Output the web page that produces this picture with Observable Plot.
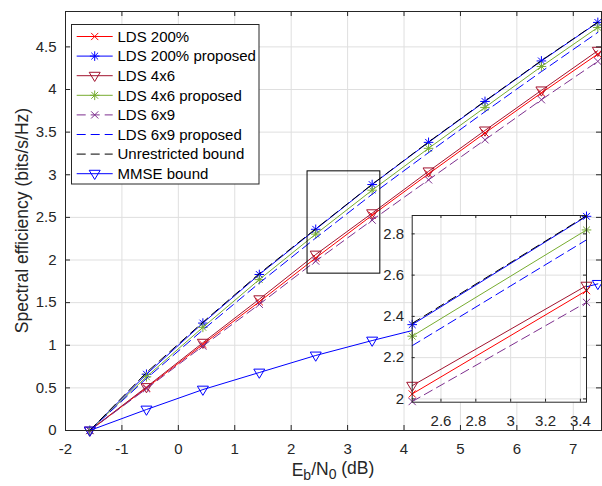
<!DOCTYPE html>
<html><head><meta charset="utf-8">
<script src="https://cdn.jsdelivr.net/npm/d3@7"></script>
<script src="https://cdn.jsdelivr.net/npm/@observablehq/plot@0.6"></script>
<style>
html,body{margin:0;padding:0;background:#fff;}
#wrap{position:relative;width:602px;height:486px;overflow:hidden;}
#inset{position:absolute;left:360px;top:205px;}
</style></head><body><div id="wrap"><div id="inset"></div></div>
<script>
// ---- data ----
const ebn0 = [-1.57, -0.565, 0.435, 1.435, 2.435, 3.435, 4.435, 5.435, 6.435, 7.435];
const lds200       = [0, 0.50, 1.01, 1.51, 2.024, 2.525, 3.01, 3.49, 3.96, 4.416];
const lds200Prop   = [0, 0.66, 1.26, 1.83, 2.360, 2.885, 3.38, 3.86, 4.335, 4.787];
const lds4x6       = [0, 0.51, 1.03, 1.54, 2.064, 2.549, 3.04, 3.52, 3.99, 4.455];
const lds4x6Prop   = [0, 0.63, 1.21, 1.77, 2.304, 2.819, 3.31, 3.79, 4.27, 4.728];
const lds6x9       = [0, 0.49, 0.99, 1.48, 1.987, 2.468, 2.94, 3.41, 3.88, 4.33];
const lds6x9Prop   = [0, 0.61, 1.18, 1.73, 2.258, 2.771, 3.26, 3.74, 4.21, 4.67];
const unrestricted = [0, 0.68, 1.27, 1.84, 2.366, 2.888, 3.385, 3.865, 4.34, 4.79];
const mmse         = [0, 0.246, 0.48, 0.68, 0.88, 1.055, 1.22, 1.38, 1.55, 1.72];
const seriesNames = ["LDS 200%", "LDS 200% proposed", "LDS 4x6", "LDS 4x6 proposed",
  "LDS 6x9", "LDS 6x9 proposed", "Unrestricted bound", "MMSE bound"];
const seriesValues = [lds200, lds200Prop, lds4x6, lds4x6Prop, lds6x9, lds6x9Prop, unrestricted, mmse];
const xTicks = [-2, -1, 0, 1, 2, 3, 4, 5, 6, 7];
const yTicks = [0, 0.5, 1, 1.5, 2, 2.5, 3, 3.5, 4, 4.5];
const xDomain = [-2, 7.5];
const yDomain = [0, 4.915];
const insetXTicks = [2.6, 2.8, 3, 3.2, 3.4];
const insetYTicks = [2, 2.2, 2.4, 2.6, 2.8];
const insetXDomain = [2.435, 3.435];
const insetYDomain = [1.984, 2.889];
const zoomBoxX = [2.29, 3.58];
const zoomBoxY = [1.84, 3.04];

// ---- styles ----
const symTimes = {draw(ctx, size) { const r = Math.sqrt(size / Math.PI);
  ctx.moveTo(-r, -r); ctx.lineTo(r, r); ctx.moveTo(-r, r); ctx.lineTo(r, -r); }};
const symStar = {draw(ctx, size) { const r = Math.sqrt(size / Math.PI), s = r * 0.7071;
  ctx.moveTo(-r, 0); ctx.lineTo(r, 0); ctx.moveTo(0, -r); ctx.lineTo(0, r);
  ctx.moveTo(-s, -s); ctx.lineTo(s, s); ctx.moveTo(-s, s); ctx.lineTo(s, -s); }};
const symTriDown = {draw(ctx, size) { const r = Math.sqrt(size / Math.PI);
  ctx.moveTo(-r, -0.62 * r); ctx.lineTo(r, -0.62 * r); ctx.lineTo(0, 1.05 * r); ctx.closePath(); }};
const styles = [
  {color: "#ff0000", dash: null, symbol: symTimes, r: 3.6},
  {color: "#0000ff", dash: null, symbol: symStar, r: 4.8},
  {color: "#a2142f", dash: null, symbol: symTriDown, r: 5.5},
  {color: "#77ac30", dash: null, symbol: symStar, r: 4.8},
  {color: "#7e2f8e", dash: "9,5", symbol: symTimes, r: 3.6},
  {color: "#0000ff", dash: "9,5", symbol: null},
  {color: "#000000", dash: "9,5", symbol: null},
  {color: "#0000ff", dash: null, symbol: symTriDown, r: 5.5}
];
const AX = "#262626", GRID = "#dfdfdf";
const FONT = "'Liberation Sans', Arial, Helvetica, sans-serif";

const rows = seriesNames.flatMap((name, si) => ebn0.map((x, i) => ({x, y: seriesValues[si][i], s: si})));

function seriesMarks(data, filter) {
  const marks = [];
  seriesNames.forEach((name, si) => {
    if (!filter(si)) return;
    const st = styles[si];
    const d = data.filter(r => r.s === si);
    const lo = {x: "x", y: "y", stroke: st.color, strokeWidth: 1};
    if (st.dash) lo.strokeDasharray = st.dash;
    marks.push(Plot.line(d, lo));
    if (st.symbol) marks.push(Plot.dot(d, {x: "x", y: "y", symbol: st.symbol, r: st.r,
      stroke: st.color, fill: "none", strokeWidth: 1}));
  });
  return marks;
}

// ---- main plot ----
const W = 602, H = 486, mT = 11, mB = 56, mL = 65, mR = 1;
const innerW = W - mL - mR, innerH = H - mT - mB, TK = 5;
const main = Plot.plot({
  width: W, height: H, marginTop: mT, marginBottom: mB, marginLeft: mL, marginRight: mR,
  style: {fontFamily: FONT, fontSize: "15px", color: AX, background: "white"},
  x: {domain: xDomain, ticks: xTicks, tickFormat: d => String(d), tickSize: 0, tickPadding: 13, label: null},
  y: {domain: yDomain, ticks: yTicks, tickFormat: d => String(d), tickSize: 0, tickPadding: 9, label: null},
  marks: [
    Plot.ruleX(xTicks, {x: d => d, stroke: GRID}),
    Plot.ruleY(yTicks, {y: d => d, stroke: GRID}),
    ...seriesMarks(rows, () => true),
    Plot.rect([{x1: zoomBoxX[0], x2: zoomBoxX[1], y1: zoomBoxY[0], y2: zoomBoxY[1]}],
      {x1: "x1", x2: "x2", y1: "y1", y2: "y2", fill: "none", stroke: "#000", strokeWidth: 1}),
    Plot.tickX(xTicks, {x: d => d, stroke: AX, insetTop: innerH - TK}),
    Plot.tickX(xTicks, {x: d => d, stroke: AX, insetBottom: innerH - TK}),
    Plot.tickY(yTicks, {y: d => d, stroke: AX, insetRight: innerW - TK}),
    Plot.tickY(yTicks, {y: d => d, stroke: AX, insetLeft: innerW - TK}),
    Plot.frame({stroke: AX, strokeWidth: 1})
  ]
});
const wrap = document.getElementById("wrap");
wrap.insertBefore(main, wrap.firstChild);

const svg = d3.select(main);
// axis labels
svg.append("text").attr("transform", `translate(28,${mT + innerH / 2}) rotate(-90)`)
  .attr("text-anchor", "middle").attr("fill", AX).style("font-size", "17.5px")
  .text("Spectral efficiency (bits/s/Hz)");
const xl = svg.append("text").attr("x", mL + innerW / 2).attr("y", 476)
  .attr("text-anchor", "middle").attr("fill", AX).style("font-size", "17.5px");
xl.append("tspan").text("E");
xl.append("tspan").attr("dy", "0.3em").style("font-size", "14px").text("b");
xl.append("tspan").attr("dy", "-0.3em").text("/N");
xl.append("tspan").attr("dy", "0.3em").style("font-size", "14px").text("0");
xl.append("tspan").attr("dy", "-0.3em").text(" (dB)");

// legend
const lg = svg.append("g").attr("text-anchor", "start");
lg.append("rect").attr("x", 71.5).attr("y", 24.5).attr("width", 187.5).attr("height", 159.5)
  .attr("fill", "white").attr("stroke", AX);
seriesNames.forEach((name, i) => {
  const y = 36.5 + i * 19.6, st = styles[i];
  const ln = lg.append("line").attr("x1", 76.7).attr("x2", 112.7).attr("y1", y).attr("y2", y)
    .attr("stroke", st.color).attr("stroke-width", 1);
  if (st.dash) ln.attr("stroke-dasharray", st.dash);
  if (st.symbol) lg.append("path").attr("transform", `translate(94.7,${y})`)
    .attr("d", d3.symbol(st.symbol, st.r * st.r * Math.PI)())
    .attr("fill", "none").attr("stroke", st.color).attr("stroke-width", 1);
  lg.append("text").attr("x", 117.5).attr("y", y).attr("dy", "0.35em").attr("fill", "#000")
    .attr("text-anchor", "start").style("font-size", "15px").text(name);
});

// ---- inset ----
const insetRows = rows.filter(r => r.x >= insetXDomain[0] - 1e-9 && r.x <= insetXDomain[1] + 1e-9);
const iW = 242, iH = 235, imL = 51.7, imT = 10, imR = 16, imB = 38.3;
const iInW = iW - imL - imR, iInH = iH - imT - imB, ITK = 3;
const inset = Plot.plot({
  width: iW, height: iH, marginTop: imT, marginBottom: imB, marginLeft: imL, marginRight: imR,
  style: {fontFamily: FONT, fontSize: "15px", color: AX, background: "transparent", overflow: "visible"},
  x: {domain: insetXDomain, ticks: insetXTicks, tickFormat: d => String(d), tickSize: 0, tickPadding: 13, label: null},
  y: {domain: insetYDomain, ticks: insetYTicks, tickFormat: d => String(d), tickSize: 0, tickPadding: 8, label: null},
  marks: [
    Plot.frame({fill: "white"}),
    Plot.ruleX(insetXTicks, {x: d => d, stroke: GRID}),
    Plot.ruleY(insetYTicks, {y: d => d, stroke: GRID}),
    ...seriesMarks(insetRows, si => si !== 7),
    Plot.tickX(insetXTicks, {x: d => d, stroke: AX, insetTop: iInH - ITK}),
    Plot.tickX(insetXTicks, {x: d => d, stroke: AX, insetBottom: iInH - ITK}),
    Plot.tickY(insetYTicks, {y: d => d, stroke: AX, insetRight: iInW - ITK}),
    Plot.tickY(insetYTicks, {y: d => d, stroke: AX, insetLeft: iInW - ITK}),
    Plot.frame({stroke: AX, strokeWidth: 1})
  ]
});
document.getElementById("inset").appendChild(inset);
</script></body></html>
